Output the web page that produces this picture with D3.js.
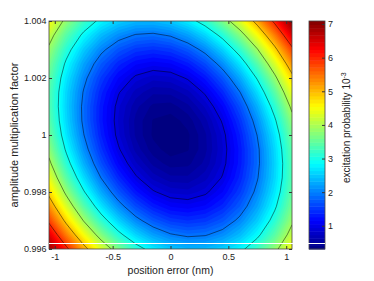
<!DOCTYPE html>
<html>
<head>
<meta charset="utf-8">
<script src="https://cdn.jsdelivr.net/npm/d3@7"></script>
<style>
  html, body { margin: 0; padding: 0; background: #fff; }
  svg { display: block; font-family: "Liberation Sans", Arial, sans-serif; }
</style>
</head>
<body>
<div id="chart"></div>
<script>
// grid of the map: position error (nm) across, amplitude factor down (top row first)
var positions = [-1.05, -0.9, -0.75, -0.6, -0.45, -0.3, -0.15, 0, 0.15, 0.3, 0.45, 0.6, 0.75, 0.9, 1.05];
var amplitudes = [1.004, 1.0035, 1.003, 1.0025, 1.002, 1.0015, 1.001, 1.0005, 1,
                  0.9995, 0.999, 0.9985, 0.998, 0.9975, 0.997, 0.9965, 0.996];

// excitation probability (x 10^-3), one row per amplitude
var excitation = [
  [4.56, 3.86, 3.31, 2.88, 2.60, 2.44, 2.43, 2.55, 2.81, 3.20, 3.73, 4.39, 5.19, 6.12, 7.09],
  [4.20, 3.48, 2.90, 2.45, 2.14, 1.97, 1.93, 2.03, 2.26, 2.63, 3.13, 3.77, 4.55, 5.46, 6.50],
  [3.91, 3.17, 2.56, 2.09, 1.76, 1.56, 1.50, 1.57, 1.78, 2.12, 2.61, 3.22, 3.97, 4.86, 5.88],
  [3.69, 2.92, 2.29, 1.80, 1.44, 1.22, 1.14, 1.19, 1.37, 1.69, 2.15, 2.74, 3.47, 4.34, 5.33],
  [3.54, 2.75, 2.10, 1.58, 1.20, 0.95, 0.84, 0.87, 1.03, 1.33, 1.76, 2.33, 3.04, 3.88, 4.85],
  [3.46, 2.64, 1.97, 1.43, 1.02, 0.76, 0.62, 0.63, 0.76, 1.04, 1.45, 1.99, 2.68, 3.49, 4.45],
  [3.45, 2.61, 1.91, 1.35, 0.92, 0.63, 0.47, 0.45, 0.57, 0.82, 1.20, 1.72, 2.38, 3.18, 4.11],
  [3.51, 2.65, 1.92, 1.34, 0.89, 0.57, 0.39, 0.35, 0.44, 0.66, 1.03, 1.53, 2.16, 2.93, 3.84],
  [3.64, 2.75, 2.01, 1.40, 0.92, 0.58, 0.38, 0.31, 0.38, 0.58, 0.92, 1.40, 2.01, 2.75, 3.64],
  [3.84, 2.93, 2.16, 1.53, 1.03, 0.66, 0.44, 0.35, 0.39, 0.57, 0.89, 1.34, 1.92, 2.65, 3.51],
  [4.11, 3.18, 2.38, 1.72, 1.20, 0.82, 0.57, 0.45, 0.47, 0.63, 0.92, 1.35, 1.91, 2.61, 3.45],
  [4.45, 3.49, 2.68, 1.99, 1.45, 1.04, 0.76, 0.63, 0.62, 0.76, 1.02, 1.43, 1.97, 2.64, 3.46],
  [4.85, 3.88, 3.04, 2.33, 1.76, 1.33, 1.03, 0.87, 0.84, 0.95, 1.20, 1.58, 2.10, 2.75, 3.54],
  [5.33, 4.34, 3.47, 2.74, 2.15, 1.69, 1.37, 1.19, 1.14, 1.22, 1.44, 1.80, 2.29, 2.92, 3.69],
  [5.88, 4.86, 3.97, 3.22, 2.61, 2.12, 1.78, 1.57, 1.50, 1.56, 1.76, 2.09, 2.56, 3.17, 3.91],
  [6.50, 5.46, 4.55, 3.77, 3.13, 2.63, 2.26, 2.03, 1.93, 1.97, 2.14, 2.45, 2.90, 3.48, 4.20],
  [6.95, 6.12, 5.19, 4.39, 3.73, 3.20, 2.81, 2.55, 2.43, 2.44, 2.60, 2.88, 3.31, 3.86, 4.56]
];

var lineLevels = [1, 2, 3, 4, 5, 6, 7];
var colorRange = [0.31, 7.09];

var xTicks = [-1, -0.5, 0, 0.5, 1];
var xTickLabels = ["-1", "-0.5", "0", "0.5", "1"];
var yTicks = [0.996, 0.998, 1, 1.002, 1.004];
var yTickLabels = ["0.996", "0.998", "1", "1.002", "1.004"];
var cTicks = [1, 2, 3, 4, 5, 6, 7];

var svgWidth = 374, svgHeight = 281;
var plot = { left: 49, right: 292, top: 21, bottom: 249 };
var bar = { left: 309, right: 325 };

var svg = d3.select("#chart").append("svg")
  .attr("width", svgWidth)
  .attr("height", svgHeight);

var x = d3.scaleLinear().domain([-1.05, 1.05]).range([plot.left, plot.right]);
var y = d3.scaleLinear().domain([0.996, 1.004]).range([plot.bottom, plot.top]);

// jet colormap
var jetStops = [0, 0.125, 0.375, 0.625, 0.875, 1];
var jetColors = ["#000080", "#0000ff", "#00ffff", "#ffff00", "#ff0000", "#800000"];
var color = d3.scaleLinear()
  .domain(jetStops.map(t => colorRange[0] + t * (colorRange[1] - colorRange[0])))
  .range(jetColors)
  .clamp(true);

// grid index -> data value (d3.contours puts value i at i + 0.5)
var nx = positions.length, ny = amplitudes.length;
var gx = d3.scaleLinear().domain(d3.range(nx)).range(positions);
var gy = d3.scaleLinear().domain(d3.range(ny)).range(amplitudes);
var proj = d3.geoTransform({
  point: function(px, py) {
    this.stream.point(x(gx(px - 0.5)), y(gy(py - 0.5)));
  }
});
var path = d3.geoPath(proj);
var values = d3.merge(excitation);

svg.append("clipPath").attr("id", "clip")
  .append("rect")
  .attr("x", plot.left).attr("y", plot.top)
  .attr("width", plot.right - plot.left)
  .attr("height", plot.bottom - plot.top);

var map = svg.append("g").attr("clip-path", "url(#clip)");

// filled bands
var fillLevels = d3.range(0.3, 7.2, 0.1);
var bands = d3.contours().size([nx, ny]).thresholds(fillLevels)(values);
map.selectAll("path.band")
  .data(bands)
  .join("path")
  .attr("class", "band")
  .attr("d", path)
  .attr("fill", d => color(d.value));

// contour lines
var isolines = d3.contours().size([nx, ny]).thresholds(lineLevels)(values);
map.selectAll("path.iso")
  .data(isolines)
  .join("path")
  .attr("class", "iso")
  .attr("d", path)
  .attr("fill", "none")
  .attr("stroke", "#000")
  .attr("stroke-opacity", 0.8)
  .attr("stroke-width", 0.6);

// axes (inward ticks on all sides)
function styleAxis(g) {
  g.select(".domain").remove();
  g.selectAll("line").attr("stroke", "#333");
  g.selectAll("text").attr("fill", "#222").attr("font-size", 9)
    .attr("font-family", "'Liberation Sans', Arial, sans-serif");
}

svg.append("g")
  .attr("transform", `translate(0, ${plot.bottom})`)
  .call(d3.axisBottom(x).tickValues(xTicks).tickFormat((d, i) => xTickLabels[i])
    .tickSizeInner(-3).tickSizeOuter(0).tickPadding(5))
  .call(styleAxis);

svg.append("g")
  .attr("transform", `translate(0, ${plot.top})`)
  .call(d3.axisTop(x).tickValues(xTicks).tickFormat("")
    .tickSizeInner(-3).tickSizeOuter(0))
  .call(styleAxis);

svg.append("g")
  .attr("transform", `translate(${plot.left}, 0)`)
  .call(d3.axisLeft(y).tickValues(yTicks).tickFormat((d, i) => yTickLabels[i])
    .tickSizeInner(-3).tickSizeOuter(0).tickPadding(2.5))
  .call(styleAxis);

svg.append("g")
  .attr("transform", `translate(${plot.right}, 0)`)
  .call(d3.axisRight(y).tickValues(yTicks).tickFormat("")
    .tickSizeInner(-3).tickSizeOuter(0))
  .call(styleAxis);

svg.append("rect")
  .attr("x", plot.left).attr("y", plot.top)
  .attr("width", plot.right - plot.left)
  .attr("height", plot.bottom - plot.top)
  .attr("fill", "none")
  .attr("stroke", "#444")
  .attr("stroke-width", 0.8);

// colorbar
var cy = d3.scaleLinear().domain(colorRange).range([plot.bottom, plot.top]);
var nSteps = 64;
var step = (colorRange[1] - colorRange[0]) / nSteps;
svg.append("g").selectAll("rect")
  .data(d3.range(nSteps))
  .join("rect")
  .attr("x", bar.left)
  .attr("width", bar.right - bar.left)
  .attr("y", k => cy(colorRange[0] + (k + 1) * step))
  .attr("height", k => cy(colorRange[0] + k * step) - cy(colorRange[0] + (k + 1) * step) + 0.5)
  .attr("fill", k => color(colorRange[0] + (k + 0.5) * step));

svg.append("g")
  .attr("transform", `translate(${bar.right}, 0)`)
  .call(d3.axisRight(cy).tickValues(cTicks).tickFormat(d3.format("d"))
    .tickSizeInner(-3).tickSizeOuter(0).tickPadding(3))
  .call(styleAxis);

svg.append("rect")
  .attr("x", bar.left).attr("y", plot.top)
  .attr("width", bar.right - bar.left)
  .attr("height", plot.bottom - plot.top)
  .attr("fill", "none")
  .attr("stroke", "#444")
  .attr("stroke-width", 0.8);

// thin white line across the map and colorbar
svg.append("line")
  .attr("x1", plot.left).attr("x2", bar.right)
  .attr("y1", 243.5).attr("y2", 243.5)
  .attr("stroke", "#fff")
  .attr("stroke-width", 1);

// axis titles
svg.append("text")
  .attr("x", (plot.left + plot.right) / 2)
  .attr("y", 274)
  .attr("text-anchor", "middle")
  .attr("font-size", 10.5)
  .attr("fill", "#222")
  .text("position error (nm)");

svg.append("text")
  .attr("transform", `translate(18, ${(plot.top + plot.bottom) / 2}) rotate(-90)`)
  .attr("text-anchor", "middle")
  .attr("font-size", 11)
  .attr("fill", "#222")
  .text("amplitude multiplication factor");

var cLabel = svg.append("text")
  .attr("transform", "translate(350, 183) rotate(-90)")
  .attr("font-size", 10)
  .attr("fill", "#222")
  .text("excitation probability 10");
cLabel.append("tspan")
  .attr("dy", -4)
  .attr("font-size", 7)
  .text("-3");
</script>
</body>
</html>
